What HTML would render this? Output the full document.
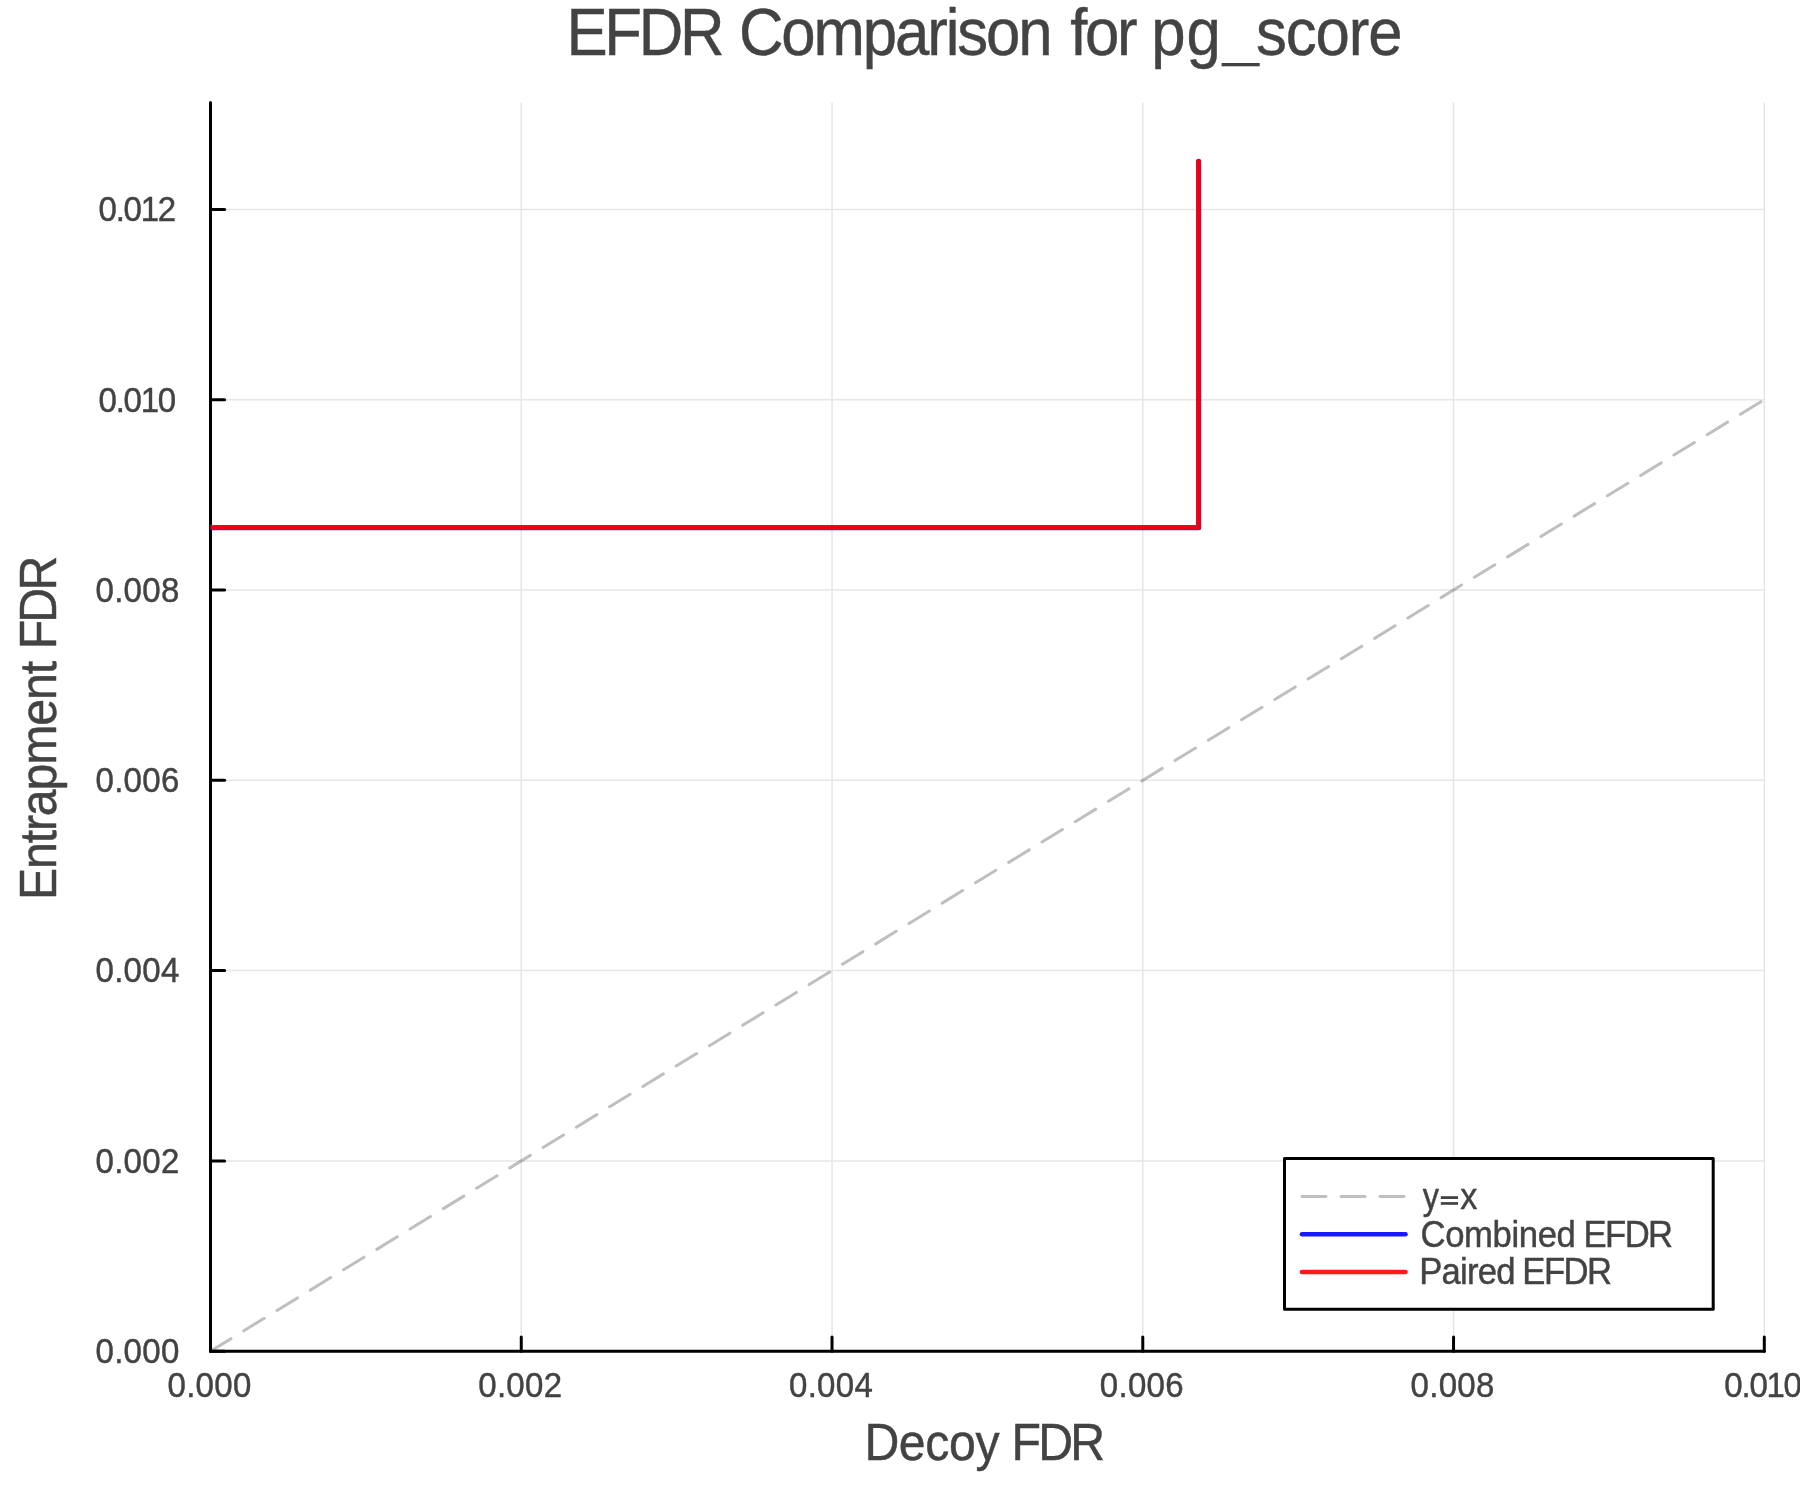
<!DOCTYPE html>
<html>
<head>
<meta charset="utf-8">
<style>
html,body{margin:0;padding:0;background:#fff;width:1800px;height:1500px;overflow:hidden;}
svg{display:block;}
text{font-family:"Liberation Sans", sans-serif;fill:#434343;stroke:#434343;stroke-width:0.45px;}
svg{will-change:transform;}
</style>
</head>
<body>
<svg width="1800" height="1500" viewBox="0 0 1800 1500">
<rect x="0" y="0" width="1800" height="1500" fill="#fff"/>
<g stroke="#e6e6e6" stroke-width="1.5" fill="none">
<line x1="521.26" y1="102.4" x2="521.26" y2="1351.20"/>
<line x1="832.02" y1="102.4" x2="832.02" y2="1351.20"/>
<line x1="1142.78" y1="102.4" x2="1142.78" y2="1351.20"/>
<line x1="1453.54" y1="102.4" x2="1453.54" y2="1351.20"/>
<line x1="1764.30" y1="102.4" x2="1764.30" y2="1351.20"/>
<line x1="210.50" y1="1160.90" x2="1764.30" y2="1160.90"/>
<line x1="210.50" y1="970.60" x2="1764.30" y2="970.60"/>
<line x1="210.50" y1="780.30" x2="1764.30" y2="780.30"/>
<line x1="210.50" y1="590.00" x2="1764.30" y2="590.00"/>
<line x1="210.50" y1="399.70" x2="1764.30" y2="399.70"/>
<line x1="210.50" y1="209.40" x2="1764.30" y2="209.40"/>
</g>
<g stroke="#000" stroke-width="3" fill="none" stroke-linecap="round" stroke-linejoin="round">
<polyline points="210.50,102.4 210.50,1351.20 1764.30,1351.20"/>
<line x1="210.50" y1="1351.20" x2="224.60" y2="1351.20"/>
<line x1="210.50" y1="1160.90" x2="224.60" y2="1160.90"/>
<line x1="210.50" y1="970.60" x2="224.60" y2="970.60"/>
<line x1="210.50" y1="780.30" x2="224.60" y2="780.30"/>
<line x1="210.50" y1="590.00" x2="224.60" y2="590.00"/>
<line x1="210.50" y1="399.70" x2="224.60" y2="399.70"/>
<line x1="210.50" y1="209.40" x2="224.60" y2="209.40"/>
<line x1="210.50" y1="1351.20" x2="210.50" y2="1337.10"/>
<line x1="521.26" y1="1351.20" x2="521.26" y2="1337.10"/>
<line x1="832.02" y1="1351.20" x2="832.02" y2="1337.10"/>
<line x1="1142.78" y1="1351.20" x2="1142.78" y2="1337.10"/>
<line x1="1453.54" y1="1351.20" x2="1453.54" y2="1337.10"/>
<line x1="1764.30" y1="1351.20" x2="1764.30" y2="1337.10"/>
</g>
<defs><clipPath id="pc"><rect x="210.50" y="102.4" width="1553.80" height="1248.80"/></clipPath></defs>
<g clip-path="url(#pc)">
<line x1="210.50" y1="1351.20" x2="1764.30" y2="399.70" stroke="rgba(0,0,0,0.25)" stroke-width="3" stroke-dasharray="24 15" stroke-linecap="round"/>
<polyline points="210.50,527.7 1198.7,527.7 1198.7,161.20000000000002" fill="none" stroke="rgba(0,0,255,0.9)" stroke-width="5" stroke-linejoin="round" stroke-linecap="round"/>
<polyline points="210.50,527.5 1198.5,527.5 1198.5,161.4" fill="none" stroke="rgba(255,0,0,0.9)" stroke-width="5" stroke-linejoin="round" stroke-linecap="round"/>
</g>
<text transform="translate(566.45,54.70) scale(0.93,1)" x="0" y="0" font-size="66.4" letter-spacing="-3.570">EFDR</text>
<text transform="translate(738.91,54.70) scale(0.93,1)" x="0" y="0" font-size="66.4" letter-spacing="-2.297">Comparison</text>
<text transform="translate(1070.17,54.70) scale(0.93,1)" x="0" y="0" font-size="66.4" letter-spacing="-2.554">for</text>
<text transform="translate(1151.28,54.70) scale(0.93,1)" x="0" y="0" font-size="66.4" letter-spacing="0.989">pg</text>
<rect x="1221.6" y="63.0" width="38.1" height="3.3" fill="#434343"/>
<text transform="translate(1255.94,54.70) scale(0.93,1)" x="0" y="0" font-size="66.4" letter-spacing="-1.159">score</text>
<text transform="translate(864.38,1459.90) scale(0.93,1)" x="0" y="0" font-size="51.9" letter-spacing="-0.401">Decoy</text>
<text transform="translate(1011.38,1459.90) scale(0.93,1)" x="0" y="0" font-size="51.9" letter-spacing="-2.903">FDR</text>
<text transform="translate(55.80,900.12) rotate(-90) scale(0.93,1)" x="0" y="0" font-size="51.9" letter-spacing="-1.221">Entrapment</text>
<text transform="translate(55.80,649.32) rotate(-90) scale(0.93,1)" x="0" y="0" font-size="51.9" letter-spacing="-3.011">FDR</text>
<text transform="translate(95.47,1363.00) scale(0.93,1)" x="0" y="0" font-size="35.5" letter-spacing="0.328">0.000</text>
<text transform="translate(95.47,1172.70) scale(0.93,1)" x="0" y="0" font-size="35.5" letter-spacing="0.328">0.002</text>
<text transform="translate(95.47,982.40) scale(0.93,1)" x="0" y="0" font-size="35.5" letter-spacing="0.328">0.004</text>
<text transform="translate(95.47,792.10) scale(0.93,1)" x="0" y="0" font-size="35.5" letter-spacing="0.328">0.006</text>
<text transform="translate(95.47,601.80) scale(0.93,1)" x="0" y="0" font-size="35.5" letter-spacing="0.328">0.008</text>
<text transform="translate(98.57,411.50) scale(0.93,1)" x="0" y="0" font-size="35.5" letter-spacing="-1.339">0.010</text>
<text transform="translate(98.57,221.20) scale(0.93,1)" x="0" y="0" font-size="35.5" letter-spacing="-1.339">0.012</text>
<text transform="translate(167.47,1396.90) scale(0.93,1)" x="0" y="0" font-size="35.5" letter-spacing="0.328">0.000</text>
<text transform="translate(478.23,1396.90) scale(0.93,1)" x="0" y="0" font-size="35.5" letter-spacing="0.328">0.002</text>
<text transform="translate(788.99,1396.90) scale(0.93,1)" x="0" y="0" font-size="35.5" letter-spacing="0.328">0.004</text>
<text transform="translate(1099.75,1396.90) scale(0.93,1)" x="0" y="0" font-size="35.5" letter-spacing="0.328">0.006</text>
<text transform="translate(1410.51,1396.90) scale(0.93,1)" x="0" y="0" font-size="35.5" letter-spacing="0.328">0.008</text>
<text transform="translate(1724.37,1396.90) scale(0.93,1)" x="0" y="0" font-size="35.5" letter-spacing="-1.339">0.010</text>
<rect x="1284.5" y="1158.5" width="428.70" height="150.70" fill="#fff" stroke="#000" stroke-width="3" stroke-linejoin="round"/>
<line x1="1302" y1="1196.4" x2="1405.5" y2="1196.4" stroke="rgba(0,0,0,0.25)" stroke-width="3" stroke-dasharray="24 15" stroke-linecap="round"/>
<line x1="1302" y1="1234.3" x2="1405.5" y2="1234.3" stroke="rgba(0,0,255,0.9)" stroke-width="4.6" stroke-linecap="round"/>
<line x1="1302" y1="1272" x2="1405.5" y2="1272" stroke="rgba(255,0,0,0.9)" stroke-width="4.6" stroke-linecap="round"/>
<text x="1422.80" y="1209.00" font-size="37.3" textLength="16.17" lengthAdjust="spacingAndGlyphs">y</text>
<rect x="1440.8" y="1196.2" width="17.2" height="2.8" fill="#434343"/>
<rect x="1440.8" y="1202.1" width="17.2" height="2.7" fill="#434343"/>
<text x="1460.28" y="1209.00" font-size="37.3" textLength="17.12" lengthAdjust="spacingAndGlyphs">x</text>
<text transform="translate(1420.54,1246.80) scale(0.93,1)" x="0" y="0" font-size="37.3" letter-spacing="-0.427">Combined</text>
<text transform="translate(1583.51,1246.80) scale(0.93,1)" x="0" y="0" font-size="37.3" letter-spacing="-1.713">EFDR</text>
<text transform="translate(1419.21,1283.90) scale(0.93,1)" x="0" y="0" font-size="37.3" letter-spacing="-0.852">Paired</text>
<text transform="translate(1522.31,1283.90) scale(0.93,1)" x="0" y="0" font-size="37.3" letter-spacing="-1.677">EFDR</text>
</svg>
</body>
</html>
